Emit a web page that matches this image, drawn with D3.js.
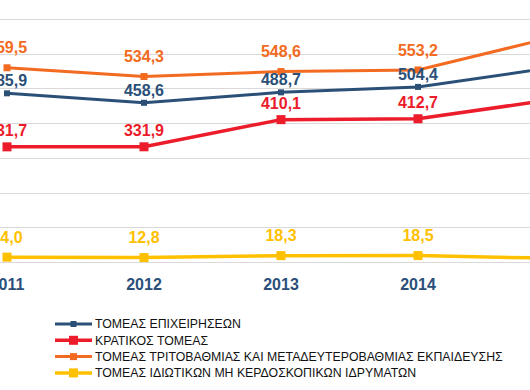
<html>
<head>
<style>
body { margin: 0; background: #fff; font-family: "Liberation Sans", Arial, sans-serif; }
.grid line { stroke: #d9d9d9; stroke-width: 1px; }
.lbl { font-size: 16px; font-weight: bold; text-anchor: middle; }
.year { font-size: 16px; font-weight: bold; fill: #2b4f7a; text-anchor: middle; }
.legend text { font-size: 12.3px; fill: #111; }
</style>
</head>
<body>
<div class="chart"></div>
<script src="https://d3js.org/d3.v7.min.js"></script>
<script>
var years = [2011, 2012, 2013, 2014, 2015];
var names = ["ΤΟΜΕΑΣ ΕΠΙΧΕΙΡΗΣΕΩΝ", "ΚΡΑΤΙΚΟΣ ΤΟΜΕΑΣ",
  "ΤΟΜΕΑΣ ΤΡΙΤΟΒΑΘΜΙΑΣ ΚΑΙ ΜΕΤΑΔΕΥΤΕΡΟΒΑΘΜΙΑΣ ΕΚΠΑΙΔΕΥΣΗΣ",
  "ΤΟΜΕΑΣ ΙΔΙΩΤΙΚΩΝ ΜΗ ΚΕΡΔΟΣΚΟΠΙΚΩΝ ΙΔΡΥΜΑΤΩΝ"];
var business = [485.9, 458.6, 488.7, 504.4, 561.0];
var government = [331.7, 331.9, 410.1, 412.7, 469.0];
var higherEd = [559.5, 534.3, 548.6, 553.2, 649.0];
var privateNonProfit = [14.0, 12.8, 18.3, 18.5, 10.5];
var gridTicks = [0, 100, 200, 300, 400, 500, 600, 700];

var series = [
  {name: names[2], values: higherEd, color: "#f26b21", w: 3, m: 7, off: 20},
  {name: names[0], values: business, color: "#2b5078", w: 3, m: 6, off: 12.5},
  {name: names[1], values: government, color: "#ec1c2b", w: 3.5, m: 9, off: 16},
  {name: names[3], values: privateNonProfit, color: "#ffc000", w: 3.5, m: 9, off: 20}
];
var legendOrder = [1, 2, 0, 3];

var width = 530, height = 390;
var svg = d3.select(".chart").append("svg")
    .attr("width", width).attr("height", height);

var x = d3.scaleLinear().domain([2011, 2014]).range([7, 418]);
var y = d3.scaleLinear().domain([0, 700]).range([262, 19]);

svg.append("g").attr("class", "grid")
  .selectAll("line").data(gridTicks).enter().append("line")
    .attr("x1", 0).attr("x2", width)
    .attr("y1", function(d){ return Math.round(y(d)) + 0.5; })
    .attr("y2", function(d){ return Math.round(y(d)) + 0.5; });

var line = d3.line()
    .x(function(d, i){ return x(years[i]); })
    .y(function(d){ return y(d); });

series.forEach(function(s){
  var g = svg.append("g");
  g.append("path")
      .attr("d", line(s.values))
      .attr("fill", "none")
      .attr("stroke", s.color)
      .attr("stroke-width", s.w);
  g.selectAll("rect").data(s.values).enter().append("rect")
      .attr("x", function(d, i){ return x(years[i]) - s.m / 2; })
      .attr("y", function(d){ return y(d) - s.m / 2; })
      .attr("width", s.m).attr("height", s.m)
      .attr("fill", s.color);
  // 2015 labels fall outside the visible area, as in the original crop
  g.selectAll("text").data(s.values.slice(0, 4)).enter().append("text")
      .attr("class", "lbl")
      .attr("x", function(d, i){ return x(years[i]); })
      .attr("y", function(d){ return y(d) - s.off; })
      .attr("dy", "0.35em")
      .attr("fill", s.color)
      .text(function(d){ return d3.format(".1f")(d).replace(".", ","); });
});

svg.selectAll(".year").data(years.slice(0, 4)).enter().append("text")
    .attr("class", "year")
    .attr("x", function(d){ return x(d); })
    .attr("y", 290)
    .text(function(d){ return d; });

var legend = svg.append("g").attr("class", "legend");
legendOrder.forEach(function(k, i){
  var s = series[k];
  var ly = 324 + i * 16.3;
  legend.append("line")
      .attr("x1", 55).attr("x2", 92).attr("y1", ly).attr("y2", ly)
      .attr("stroke", s.color).attr("stroke-width", s.w);
  legend.append("rect")
      .attr("x", 73.5 - s.m / 2).attr("y", ly - s.m / 2)
      .attr("width", s.m).attr("height", s.m)
      .attr("fill", s.color);
  legend.append("text")
      .attr("x", 95).attr("y", ly).attr("dy", "0.35em")
      .text(s.name);
});
</script>
</body>
</html>
